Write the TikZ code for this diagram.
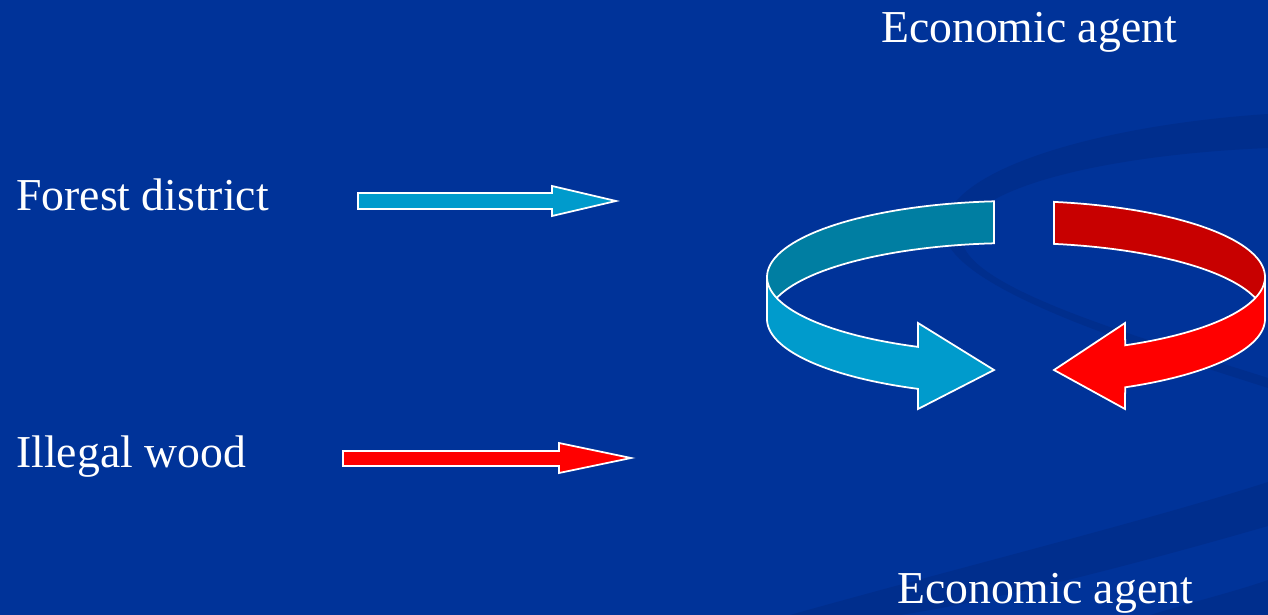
\documentclass[tikz,border=0pt]{standalone}
\usepackage{fontspec}
\setmainfont{Liberation Serif}
\usepackage{tikz}

\definecolor{bgblue}{RGB}{0,51,153}
\definecolor{bgdark}{RGB}{0,44,136}
\definecolor{lightblue}{RGB}{0,155,204}
\definecolor{tealback}{RGB}{0,126,162}
\definecolor{redfront}{RGB}{255,0,0}
\definecolor{redback}{RGB}{200,0,0}

% ring geometry (pixels)
\newcommand{\ringcx}{1016}
\newcommand{\ringcy}{277}
\newcommand{\ringa}{249}
\newcommand{\ringb}{76}
\newcommand{\ringh}{42}

\begin{document}
\begin{tikzpicture}[
  x=0.02cm, y=-0.02cm,
  lbl/.style={text=white, font=\fontsize{26}{30}\selectfont, inner sep=0pt},
  band/.style={draw=white, line width=1pt, line join=miter},
  swoosh/.style={bgdark, opacity=0.7}
]
\useasboundingbox (0,0) rectangle (1268,615);
\fill[bgblue] (0,0) rectangle (1268,615);
\clip (0,0) rectangle (1268,615);

% background swooshes
\fill[swoosh] (1268,114) .. controls (1100,125) and (940,170) .. (944,232)
  .. controls (950,290) and (1150,350) .. (1268,388)
  -- (1268,378) .. controls (1150,340) and (968,290) .. (962,240)
  .. controls (958,190) and (1100,155) .. (1268,148) -- cycle;
\fill[swoosh] (790,615) .. controls (950,570) and (1150,520) .. (1268,482)
  -- (1268,526) .. controls (1150,560) and (1000,600) .. (900,615) -- cycle;
\fill[swoosh] (1150,615) .. controls (1200,600) and (1240,590) .. (1268,580) -- (1268,615) -- cycle;

% straight arrows
\filldraw[band, fill=lightblue] (358,193) -- (552,193) -- (552,186) -- (616,201)
  -- (552,216) -- (552,209) -- (358,209) -- cycle;
\filldraw[band, fill=redfront] (343,451) -- (559,451) -- (559,443) -- (631,458)
  -- (559,473) -- (559,466) -- (343,466) -- cycle;

% ring: back parts
\filldraw[band, fill=tealback]
  plot[domain=95.07:180, samples=40] ({\ringcx+\ringa*cos(\x)}, {\ringcy-\ringb*sin(\x)})
  -- plot[domain=180:95.07, samples=40] ({\ringcx+\ringa*cos(\x)}, {\ringcy+\ringh-\ringb*sin(\x)})
  -- cycle;
\filldraw[band, fill=redback]
  plot[domain=81.2:0, samples=40] ({\ringcx+\ringa*cos(\x)}, {\ringcy-\ringb*sin(\x)})
  -- plot[domain=0:81.2, samples=40] ({\ringcx+\ringa*cos(\x)}, {\ringcy+\ringh-\ringb*sin(\x)})
  -- cycle;

% ring: front parts with heads
\filldraw[band, fill=lightblue]
  plot[domain=180:246.8, samples=40] ({\ringcx+\ringa*cos(\x)}, {\ringcy-\ringb*sin(\x)})
  -- (918,323) -- (994,370) -- (918,409)
  -- plot[domain=246.8:180, samples=40] ({\ringcx+\ringa*cos(\x)}, {\ringcy+\ringh-\ringb*sin(\x)})
  -- cycle;
\filldraw[band, fill=redfront]
  plot[domain=360:296, samples=40] ({\ringcx+\ringa*cos(\x)}, {\ringcy-\ringb*sin(\x)})
  -- (1125,323) -- (1054,370) -- (1125,409)
  -- plot[domain=296:360, samples=40] ({\ringcx+\ringa*cos(\x)}, {\ringcy+\ringh-\ringb*sin(\x)})
  -- cycle;

% labels
\node[lbl, anchor=base west] (forest) at (16,210) {Forest district};
\node[lbl, anchor=base west] (illegal) at (16,467) {Illegal wood};
\node[lbl, anchor=base] (agenttop) at (1029,43) {Economic agent};
\node[lbl, anchor=base] (agentbot) at (1045,603) {Economic agent};
\end{tikzpicture}
\end{document}
